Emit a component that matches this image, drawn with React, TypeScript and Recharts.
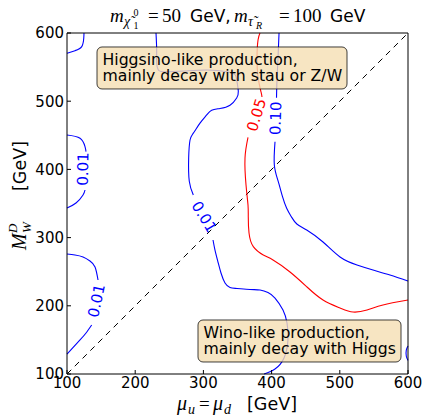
import { ComposedChart, Line, XAxis, YAxis, ReferenceLine, ReferenceDot } from 'recharts';

type Pt = { x: number; y: number };

const axisTicks = [100, 200, 300, 400, 500, 600];

// contour level 0.01, small piece in the top-left corner
const c001Corner: Pt[] = [
  { x: 124.9, y: 600 }, { x: 124.6, y: 592.7 }, { x: 121.6, y: 580.0 },
  { x: 111.7, y: 574.1 }, { x: 100, y: 570.2 },
];
// contour 0.01, left edge, upper bump (two pieces around its label)
const c001LeftTopA: Pt[] = [
  { x: 100, y: 450.4 }, { x: 119.1, y: 445.6 }, { x: 126.4, y: 433.3 }, { x: 127.9, y: 426.0 },
];
const c001LeftTopB: Pt[] = [
  { x: 126.4, y: 369.8 }, { x: 123.5, y: 362.5 }, { x: 113.2, y: 350.7 }, { x: 100, y: 343.4 },
];
// contour 0.01, left edge, lower bump
const c001LeftLowA: Pt[] = [
  { x: 100, y: 276.0 }, { x: 111.7, y: 274.5 }, { x: 123.5, y: 271.6 },
  { x: 133.7, y: 265.7 }, { x: 141.1, y: 256.9 }, { x: 145.5, y: 237.8 },
];
const c001LeftLowB: Pt[] = [
  { x: 136.2, y: 171.8 }, { x: 127.9, y: 160.1 }, { x: 119.1, y: 149.9 }, { x: 100, y: 129.3 },
];
// contour 0.01, the long one through the middle
const c001MidA: Pt[] = [
  { x: 230.5, y: 600 }, { x: 231.5, y: 575.1 }, { x: 231.5, y: 556.0 }, { x: 233.9, y: 545.7 },
  { x: 243.7, y: 543.1 }, { x: 273.0, y: 544.3 }, { x: 305.3, y: 545.7 }, { x: 334.6, y: 543.1 },
  { x: 346.3, y: 538.9 }, { x: 348.8, y: 531.7 }, { x: 351.2, y: 514.5 }, { x: 348.8, y: 504.8 },
  { x: 339.0, y: 494.1 }, { x: 324.3, y: 489.3 }, { x: 312.1, y: 486.8 }, { x: 304.8, y: 479.8 },
  { x: 295.0, y: 467.8 }, { x: 285.2, y: 453.1 }, { x: 280.4, y: 443.1 }, { x: 278.4, y: 417.0 },
  { x: 279.3, y: 382.6 }, { x: 285.2, y: 362.5 },
];
const c001MidB: Pt[] = [
  { x: 314.1, y: 296.5 }, { x: 317.0, y: 281.8 }, { x: 321.4, y: 264.2 }, { x: 325.8, y: 248.1 },
  { x: 331.7, y: 233.4 }, { x: 339.0, y: 226.8 }, { x: 349.3, y: 225.4 }, { x: 368.3, y: 223.9 },
  { x: 383.0, y: 223.2 }, { x: 394.7, y: 219.5 }, { x: 405.0, y: 211.4 }, { x: 416.7, y: 193.8 },
  { x: 422.6, y: 174.8 }, { x: 424.0, y: 149.9 }, { x: 418.2, y: 123.5 }, { x: 405.0, y: 107.3 },
  { x: 388.9, y: 100 },
];
// contour 0.01, tiny arc on the right edge
const c001Edge: Pt[] = [
  { x: 600, y: 141 }, { x: 597.5, y: 135 }, { x: 597.5, y: 126 }, { x: 600, y: 120 },
];
// contour 0.05
const c005A: Pt[] = [
  { x: 383.0, y: 600 }, { x: 380.1, y: 589.7 }, { x: 378.6, y: 564.8 },
  { x: 380.1, y: 535.5 }, { x: 384.5, y: 513.5 }, { x: 385.9, y: 506.2 },
];
const c005B: Pt[] = [
  { x: 365.4, y: 447.1 }, { x: 361.0, y: 416.7 }, { x: 362.5, y: 377.1 }, { x: 365.4, y: 347.8 },
  { x: 365.8, y: 330.6 }, { x: 366.9, y: 306.7 }, { x: 373.2, y: 286.7 }, { x: 387.8, y: 274.5 },
  { x: 402.1, y: 267.2 }, { x: 427.0, y: 249.6 }, { x: 451.9, y: 227.6 }, { x: 475.4, y: 208.5 },
  { x: 500.3, y: 196.8 }, { x: 519.4, y: 190.9 }, { x: 539.9, y: 193.8 }, { x: 563.3, y: 201.2 },
  { x: 600, y: 208.5 },
];
// contour 0.10
const c010A: Pt[] = [
  { x: 410.9, y: 600 }, { x: 409.4, y: 563.3 }, { x: 407.9, y: 531.1 }, { x: 407.2, y: 505.1 },
];
const c010B: Pt[] = [
  { x: 405.0, y: 440.6 }, { x: 404.0, y: 406.5 }, { x: 409.8, y: 382.0 }, { x: 416.0, y: 360.0 },
  { x: 422.1, y: 343.0 }, { x: 429.0, y: 330.5 }, { x: 437.0, y: 320.0 }, { x: 451.5, y: 311.1 },
  { x: 475.4, y: 293.5 }, { x: 500.3, y: 271.6 }, { x: 525.2, y: 259.8 }, { x: 548.7, y: 252.5 },
  { x: 573.6, y: 245.2 }, { x: 600, y: 236.4 },
];
const diagonal = [{ x: 100, y: 100 }, { x: 600, y: 600 }];

const higgsinoNote = ['Higgsino-like production,', 'mainly decay with stau or Z/W'];
const winoNote = ['Wino-like production,', 'mainly decay with Higgs'];

const FONT = '"DejaVu Sans", sans-serif';
const MATH = '"Liberation Serif", serif';
const BLUE = '#0000ff';
const RED = '#ff0000';

const contourLabel = (text: string, color: string, angle: number) => (p: any) => (
  <text
    x={p.cx}
    y={p.cy}
    transform={`rotate(${angle} ${p.cx} ${p.cy})`}
    fill={color}
    fontSize={15}
    fontFamily={FONT}
    textAnchor="middle"
    dominantBaseline="central"
  >
    {text}
  </text>
);

const noteBox = (lines: string[], w: number) => (p: any) => (
  <g>
    <rect
      x={p.cx}
      y={p.cy}
      width={w}
      height={42}
      rx={5}
      ry={5}
      fill="#f5deb3"
      fillOpacity={0.8}
      stroke="#000"
      strokeOpacity={0.75}
    />
    {lines.map((t, i) => (
      <text key={i} x={p.cx + 5.5} y={p.cy + 18.5 + i * 16} fontSize={15.7} fontFamily={FONT} fill="#000">
        {t}
      </text>
    ))}
  </g>
);

const contour = (data: Pt[], color: string, key: string) => (
  <Line
    key={key}
    data={data}
    dataKey="y"
    type="natural"
    stroke={color}
    strokeWidth={1.1}
    dot={false}
    activeDot={false}
    isAnimationActive={false}
  />
);

const tickStyle = { fill: '#000', fontSize: 15, fontFamily: FONT };
const noLabel = () => <g />;

// math-ish text pieces for the title and axis titles
const M = (x: number, y: number, s: string, size: number, italic = true) => (
  <text x={x} y={y} fontSize={size} fontFamily={MATH} fontStyle={italic ? 'italic' : 'normal'} fill="#000">
    {s}
  </text>
);
const S = (x: number, y: number, s: string, size = 17) => (
  <text x={x} y={y} fontSize={size} fontFamily={FONT} fill="#000">
    {s}
  </text>
);

export default function App() {
  return (
    <div style={{ position: 'absolute', left: 0, top: 0, width: 425, height: 417, background: '#fff' }}>
      <ComposedChart width={425} height={417} margin={{ top: 32, right: 16, bottom: 13, left: 7 }}>
        <XAxis
          dataKey="x"
          type="number"
          domain={[100, 600]}
          ticks={axisTicks}
          interval={0}
          height={30}
          tickSize={-4}
          tickMargin={7}
          tick={tickStyle}
          axisLine={{ stroke: '#000' }}
          tickLine={{ stroke: '#000' }}
        />
        <XAxis
          xAxisId="top"
          orientation="top"
          dataKey="x"
          type="number"
          domain={[100, 600]}
          ticks={axisTicks}
          interval={0}
          height={1}
          tickSize={-4}
          tick={noLabel}
          axisLine={{ stroke: '#000' }}
          tickLine={{ stroke: '#000' }}
        />
        <YAxis
          type="number"
          domain={[100, 600]}
          ticks={axisTicks}
          interval={0}
          width={60}
          tickSize={-4}
          tickMargin={7}
          tick={tickStyle}
          axisLine={{ stroke: '#000' }}
          tickLine={{ stroke: '#000' }}
        />
        <YAxis
          yAxisId="right"
          orientation="right"
          type="number"
          domain={[100, 600]}
          ticks={axisTicks}
          interval={0}
          width={1}
          tickSize={-4}
          tick={noLabel}
          axisLine={{ stroke: '#000' }}
          tickLine={{ stroke: '#000' }}
        />
        <ReferenceLine segment={diagonal} stroke="#000" strokeWidth={1} strokeDasharray="6 5" />
        {contour(c001Corner, BLUE, 'a')}
        {contour(c001LeftTopA, BLUE, 'b1')}
        {contour(c001LeftTopB, BLUE, 'b2')}
        {contour(c001LeftLowA, BLUE, 'c1')}
        {contour(c001LeftLowB, BLUE, 'c2')}
        {contour(c001MidA, BLUE, 'd1')}
        {contour(c001MidB, BLUE, 'd2')}
        {contour(c001Edge, BLUE, 'e')}
        {contour(c005A, RED, 'r1')}
        {contour(c005B, RED, 'r2')}
        {contour(c010A, BLUE, 't1')}
        {contour(c010B, BLUE, 't2')}
        <ReferenceDot x={123.5} y={400.6} r={0} shape={contourLabel('0.01', BLUE, -89)} />
        <ReferenceDot x={143.5} y={207.3} r={0} shape={contourLabel('0.01', BLUE, -78)} />
        <ReferenceDot x={300.9} y={330.2} r={0} shape={contourLabel('0.01', BLUE, 59)} />
        <ReferenceDot x={378.1} y={479.8} r={0} shape={contourLabel('0.05', RED, -73)} />
        <ReferenceDot x={406.2} y={474.9} r={0} shape={contourLabel('0.10', BLUE, -88)} />
        <ReferenceDot x={144.0} y={579.5} r={0} shape={noteBox(higgsinoNote, 250)} />
        <ReferenceDot x={292.1} y={179.2} r={0} shape={noteBox(winoNote, 203)} />
      </ComposedChart>
      <svg
        width={425}
        height={417}
        style={{ position: 'absolute', left: 0, top: 0, pointerEvents: 'none' }}
      >
        {/* title */}
        {M(110, 22, 'm', 19)}
        {M(124, 26, 'χ̃', 14)}
        {M(133.5, 16, '0', 10, false)}
        {M(133.5, 29, '1', 10, false)}
        {M(148, 22, '=', 19, false)}
        {M(162, 22, '50', 19, false)}
        {S(190, 22, 'GeV,')}
        {M(234, 22, 'm', 19)}
        {M(248, 26, 'τ̃', 14)}
        {M(256, 29, 'R', 10)}
        {M(279, 22, '=', 19, false)}
        {M(293, 22, '100', 19, false)}
        {S(330, 22, 'GeV')}
        {/* x axis title */}
        {M(177, 410, 'μ', 20)}
        {M(188, 414, 'u', 14)}
        {M(199, 410, '=', 19, false)}
        {M(213, 410, 'μ', 20)}
        {M(224, 414, 'd', 14)}
        {S(247, 410, '[GeV]', 17.5)}
        {/* y axis title, rotated */}
        <g transform="rotate(-90 26 250)">
          {M(26, 250, 'M', 20)}
          {M(43, 241, 'D', 13)}
          {M(43, 255, 'W', 13)}
          {S(85, 250, '[GeV]', 17.5)}
        </g>
      </svg>
    </div>
  );
}
